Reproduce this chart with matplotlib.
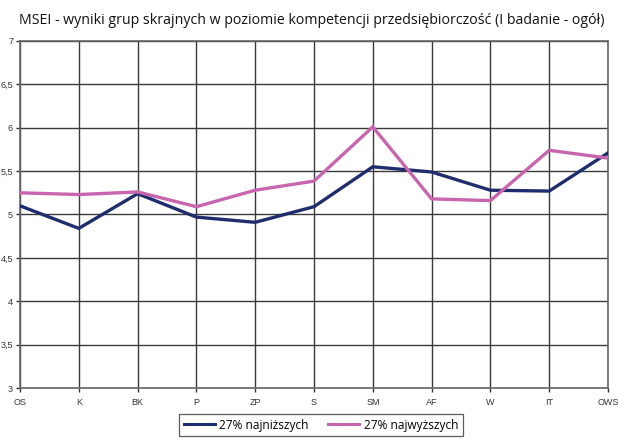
import matplotlib
matplotlib.use("Agg")
import matplotlib.pyplot as plt
from matplotlib.lines import Line2D

categories = ["OS", "K", "BK", "P", "ZP", "S", "SM", "AF", "W", "IT", "OWS"]
lowest_27 = [5.10, 4.84, 5.24, 4.97, 4.91, 5.09, 5.55, 5.49, 5.28, 5.27, 5.71]
highest_27 = [5.25, 5.23, 5.26, 5.09, 5.28, 5.385, 6.01, 5.18, 5.16, 5.74, 5.65]
y_ticks = [3, 3.5, 4, 4.5, 5, 5.5, 6, 6.5, 7]
y_tick_labels = ["3", "3,5", "4", "4,5", "5", "5,5", "6", "6,5", "7"]

navy = "#1f2d6e"
pink = "#c766ae"
grid_col = "#3a3a3a"

fig = plt.figure(figsize=(6.18, 4.40), dpi=100)
ax = fig.add_axes([20 / 618, 52 / 440, 588 / 618, 347 / 440])

x = list(range(len(categories)))
ax.plot(x, lowest_27, color=navy, lw=2.4, solid_joinstyle="miter", zorder=3)
ax.plot(x, highest_27, color=pink, lw=2.4, solid_joinstyle="miter", zorder=3)

ax.set_xlim(0, len(categories) - 1)
ax.set_ylim(3, 7)
ax.set_xticks(x)
ax.set_xticklabels(categories, family="Liberation Sans", fontsize=6.5, color="#333333")
ax.set_yticks(y_ticks)
ax.set_yticklabels(y_tick_labels, family="Liberation Sans", fontsize=6.5, color="#333333")
ax.tick_params(axis="both", length=3, width=1, color="#333333", pad=4)
ax.tick_params(axis="y", pad=2)

ax.grid(True, color=grid_col, lw=1.0, zorder=1)
for s in ax.spines.values():
    s.set_color("#666666")
    s.set_linewidth(1.2)

fig.text(312 / 618, 1 - 20 / 440,
         "MSEI - wyniki grup skrajnych w poziomie kompetencji przedsiębiorczość (I badanie - ogół)",
         ha="center", va="center", family="Open Sans", fontsize=10.2, color="#111111")

handles = [Line2D([], [], color=navy, lw=2.2), Line2D([], [], color=pink, lw=2.2)]
leg = fig.legend(handles, ["27% najniższych", "27% najwyższych"], loc="center",
                 bbox_to_anchor=(321 / 618, 1 - 425 / 440), ncol=2, frameon=True,
                 fancybox=False, edgecolor="#333333", handlelength=2.6,
                 handletextpad=0.4, columnspacing=1.6, borderpad=0.35,
                 prop={"family": "Open Sans", "size": 8.6})
leg.get_frame().set_linewidth(0.9)

fig.savefig("out.png", dpi=100, facecolor="white")
